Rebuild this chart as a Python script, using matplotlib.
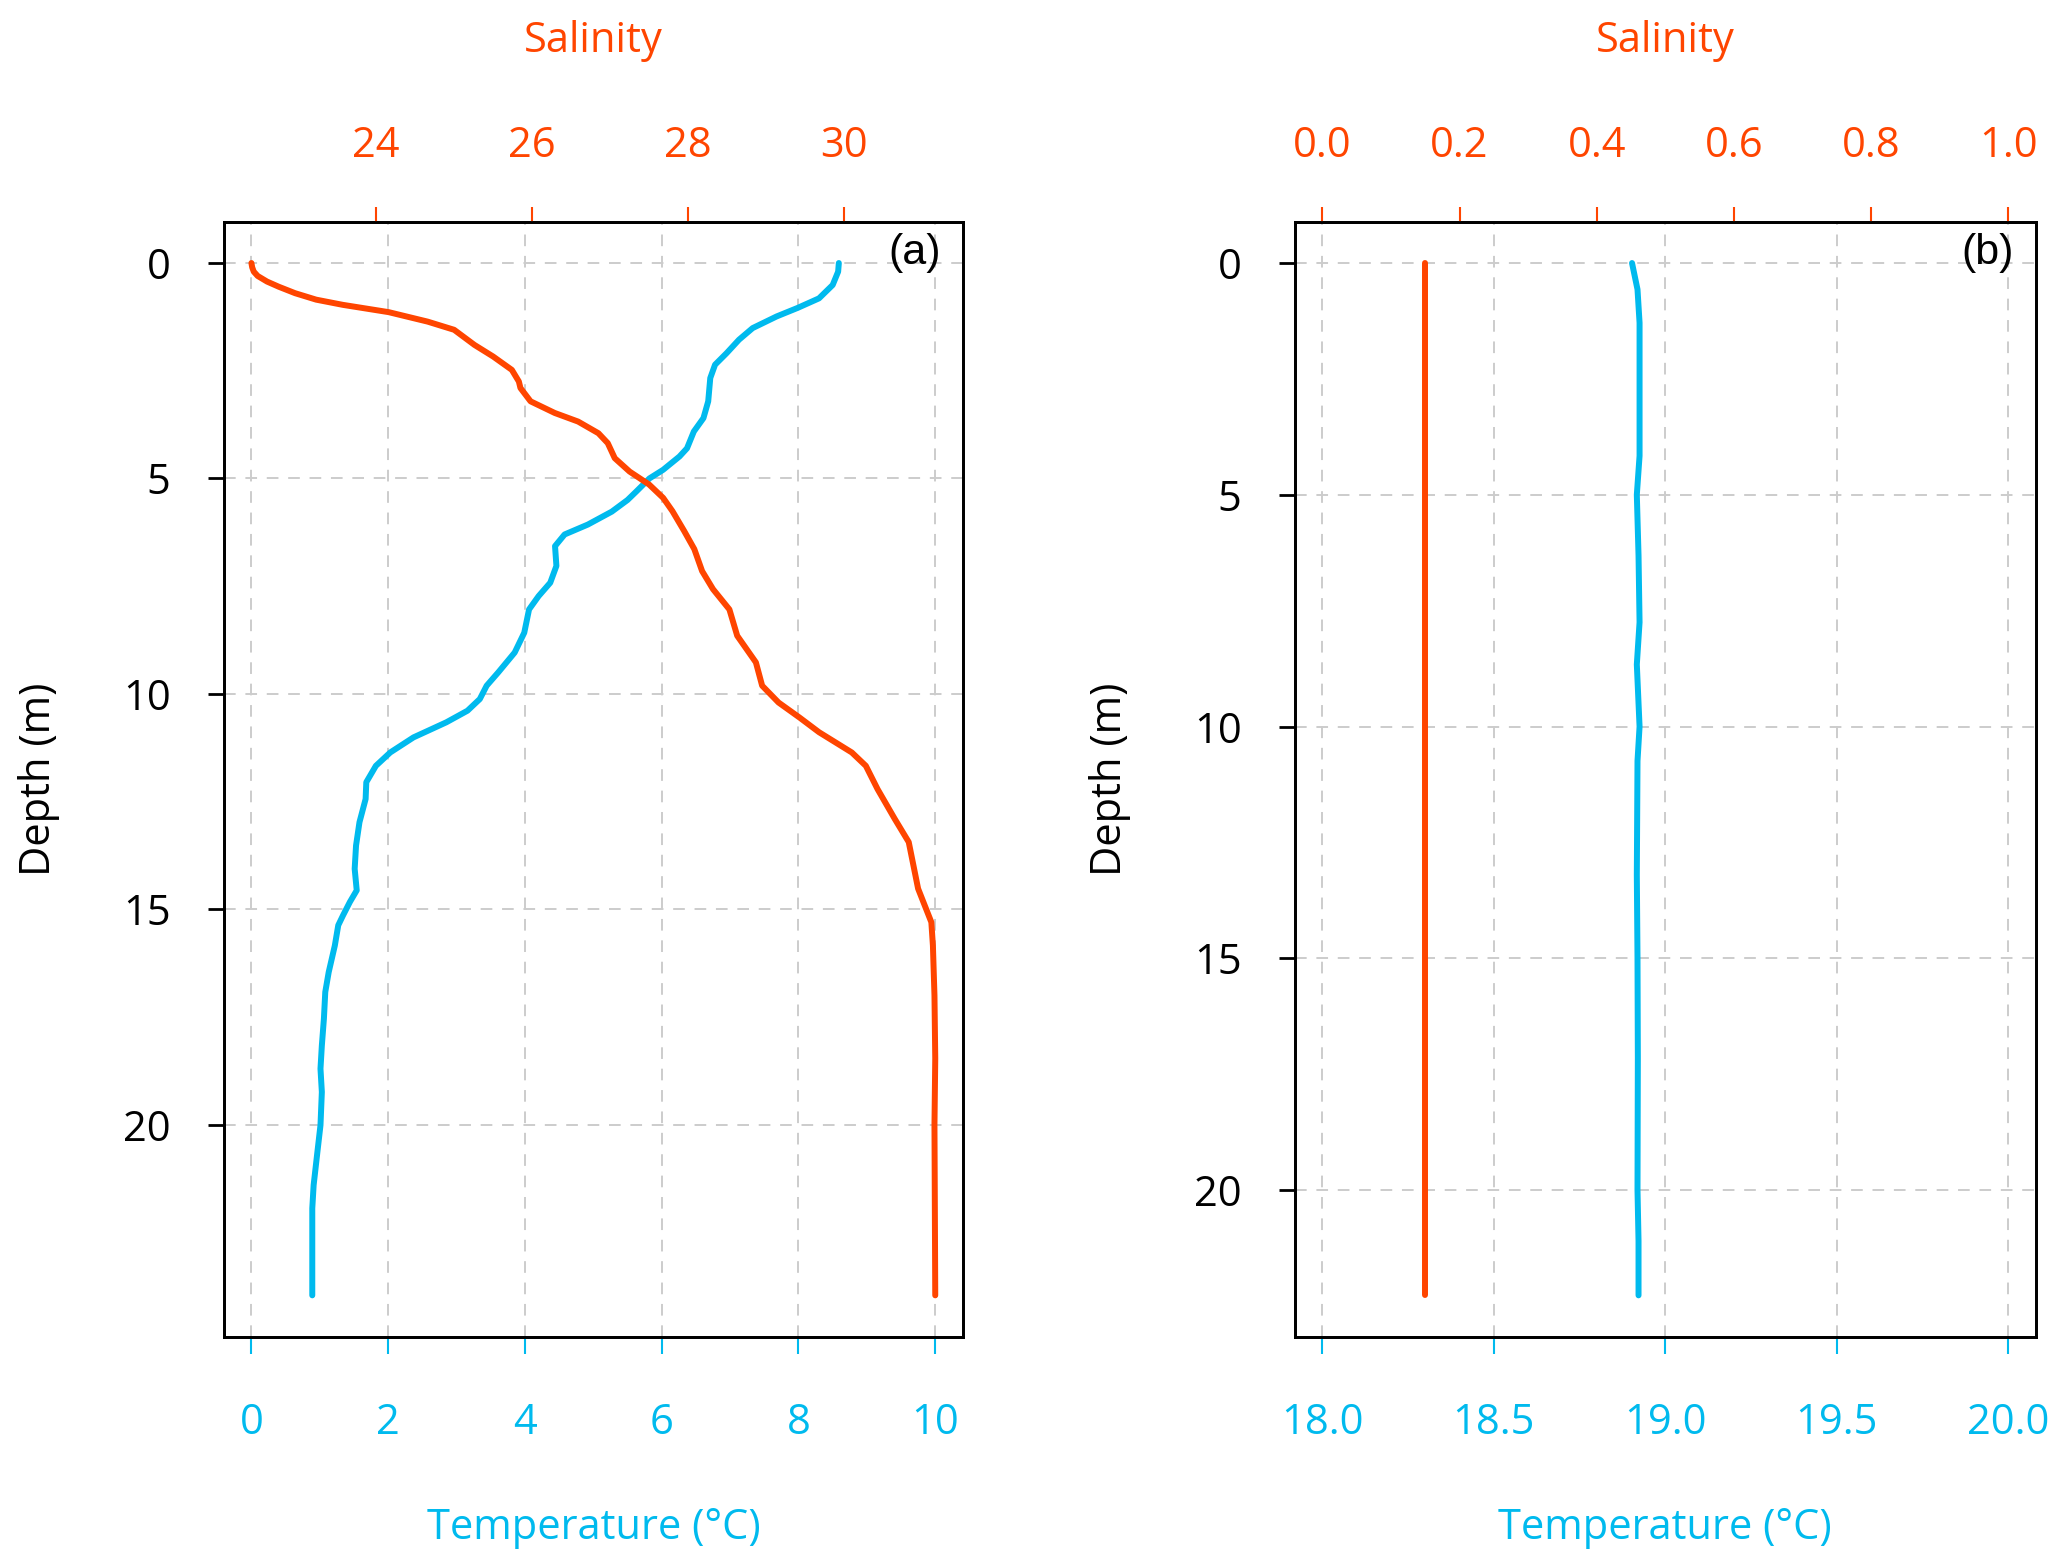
import numpy as np
import matplotlib
matplotlib.use("Agg")
import matplotlib.pyplot as plt
from matplotlib.ticker import FormatStrFormatter

plt.rcParams['font.family'] = ['Open Sans', 'DejaVu Sans']

# ---- panel (a) profiles ----
depth_temp_a = [0, 0.2, 0.51, 0.82, 1.04, 1.24, 1.51, 1.78, 2.09, 2.36, 2.67, 3.21, 3.6,
                3.91, 4.3, 4.49, 4.8, 5.0, 5.3, 5.5, 5.77, 6.07, 6.3, 6.57, 7.03, 7.42,
                7.73, 8.04, 8.58, 9.04, 9.5, 9.81, 10.12, 10.39, 10.66, 11.01, 11.36,
                11.67, 12.05, 12.44, 12.98, 13.52, 14.06, 14.56, 14.83, 15.14, 15.37,
                15.84, 16.46, 16.92, 17.54, 18.16, 18.7, 19.24, 20.01, 20.7, 21.4, 21.94,
                23.96]
temp_a = [8.59, 8.58, 8.5, 8.30, 7.99, 7.68, 7.33, 7.13, 6.95, 6.78, 6.71, 6.68, 6.61,
          6.47, 6.37, 6.26, 6.02, 5.82, 5.63, 5.50, 5.27, 4.92, 4.58, 4.44, 4.46, 4.37,
          4.20, 4.06, 3.99, 3.85, 3.61, 3.44, 3.34, 3.16, 2.85, 2.37, 2.03,
          1.82, 1.68, 1.67, 1.58, 1.53, 1.51, 1.54, 1.44, 1.34, 1.27,
          1.22, 1.13, 1.08, 1.06, 1.03, 1.01, 1.03, 1.01, 0.96, 0.91, 0.89,
          0.89]

depth_sal_a = [0, 0.1, 0.2, 0.3, 0.43, 0.55, 0.70, 0.85, 0.97, 1.14, 1.36, 1.55, 1.90,
               2.17, 2.48, 2.75, 2.90, 3.21, 3.48, 3.68, 3.95, 4.18, 4.53, 4.84, 5.14,
               5.45, 5.76, 6.22, 6.64, 7.15, 7.57, 8.04, 8.65, 9.27, 9.81, 10.2, 10.55,
               10.89, 11.36, 11.67, 12.21, 12.9, 13.44, 14.52, 15.3, 15.84, 17.0, 18.46,
               20.01, 23.96]
sal_a = [22.40, 22.41, 22.43, 22.48, 22.60, 22.75, 22.96, 23.23, 23.57, 24.16, 24.66,
         25.00, 25.26, 25.50, 25.74, 25.83, 25.85, 25.98, 26.29, 26.59, 26.85, 26.97,
         27.06, 27.25, 27.50, 27.68, 27.80, 27.95, 28.08, 28.18, 28.32, 28.53, 28.63,
         28.87, 28.95, 29.16, 29.43, 29.68, 30.10, 30.28, 30.43, 30.65, 30.83, 30.95,
         31.12, 31.14, 31.16, 31.17, 31.16, 31.17]

# ---- panel (b) profiles ----
depth_b = [0, 0.57, 1.29, 4.16, 5.0, 6.31, 7.75, 8.66, 10.0, 10.74, 13.2, 15.0, 17.15,
           20.0, 21.1, 22.27]
temp_b = [18.903, 18.919, 18.925, 18.925, 18.917, 18.922, 18.925, 18.917, 18.925,
          18.919, 18.917, 18.919, 18.920, 18.919, 18.922, 18.922]
sal_b = [0.15] * len(depth_b)

temp_ticks_a = [0, 2, 4, 6, 8, 10]
sal_ticks_a = [24, 26, 28, 30]
temp_ticks_b = [18.0, 18.5, 19.0, 19.5, 20.0]
sal_ticks_b = [0.0, 0.2, 0.4, 0.6, 0.8, 1.0]
depth_ticks = [0, 5, 10, 15, 20]

ORANGE = '#FF4500'
BLUE = '#00BAEE'
FS = 30


def pad_range(lo, hi):
    # R style 4% extension
    r = hi - lo
    return lo - 0.04 * r, hi + 0.04 * r


def profile_panel(fig, rect, depth_t, temp, depth_s, sal, tlim, slim, t_ticks, s_ticks,
                  tag, fmt=None):
    ax = fig.add_axes(rect)
    ax.plot(temp, depth_t, color=BLUE, lw=4.3, solid_capstyle='round',
            solid_joinstyle='round', zorder=3)
    ax.set_xlim(*pad_range(*tlim))
    dmax = max(max(depth_t), max(depth_s))
    lo, hi = pad_range(0, dmax)
    ax.set_ylim(hi, lo)
    ax.set_xticks(t_ticks)
    ax.set_yticks(depth_ticks)
    if fmt:
        ax.xaxis.set_major_formatter(FormatStrFormatter(fmt))
    ax.grid(True, color='#cccccc', lw=1.4, ls=(0, (6, 5)), zorder=0)
    ax.tick_params(axis='x', colors=BLUE, labelcolor=BLUE, length=12, width=1.5,
                   pad=35, labelsize=FS)
    ax.tick_params(axis='y', colors='black', length=11.5, width=2, pad=27,
                   labelsize=FS)
    ax.set_xlabel('Temperature (°C)', color=BLUE, fontsize=FS)
    ax.xaxis.set_label_coords(0.5, -0.1716)
    ax.xaxis.label.set_va('center')
    ax.set_ylabel('Depth (m)', fontsize=FS)
    ax.yaxis.set_label_coords(-0.25, 0.5)
    ax.yaxis.label.set_va('center')

    ax2 = ax.twiny()
    ax2.plot(sal, depth_s, color=ORANGE, lw=4.3, solid_capstyle='round',
             solid_joinstyle='round', zorder=3)
    ax2.set_xlim(*pad_range(*slim))
    ax2.set_xticks(s_ticks)
    if fmt:
        ax2.xaxis.set_major_formatter(FormatStrFormatter(fmt))
    ax2.tick_params(axis='x', colors=ORANGE, labelcolor=ORANGE, length=11, width=1.5,
                    pad=28.5, labelsize=FS)
    ax2.set_xlabel('Salinity', color=ORANGE, fontsize=FS)
    ax2.xaxis.set_label_coords(0.5, 1.162)
    ax2.xaxis.label.set_va('center')

    for a in (ax, ax2):
        for s in a.spines.values():
            s.set_linewidth(2)
            s.set_color('black')

    ax2.text(0.971, 0.990, tag, transform=ax.transAxes, ha='right', va='top',
             fontsize=31, family=['Liberation Sans', 'DejaVu Sans'])
    return ax, ax2


fig = plt.figure(figsize=(20.67, 15.67), dpi=100)

profile_panel(fig, [0.1084, 0.147, 0.3573, 0.7115], depth_temp_a, temp_a,
              depth_sal_a, sal_a, (0, 10), (min(sal_a), max(sal_a)),
              temp_ticks_a, sal_ticks_a, '(a)')
profile_panel(fig, [0.6265, 0.147, 0.3583, 0.7115], depth_b, temp_b,
              depth_b, sal_b, (18, 20), (0, 1),
              temp_ticks_b, sal_ticks_b, '(b)', fmt='%.1f')

fig.savefig('out.png', dpi=100)
